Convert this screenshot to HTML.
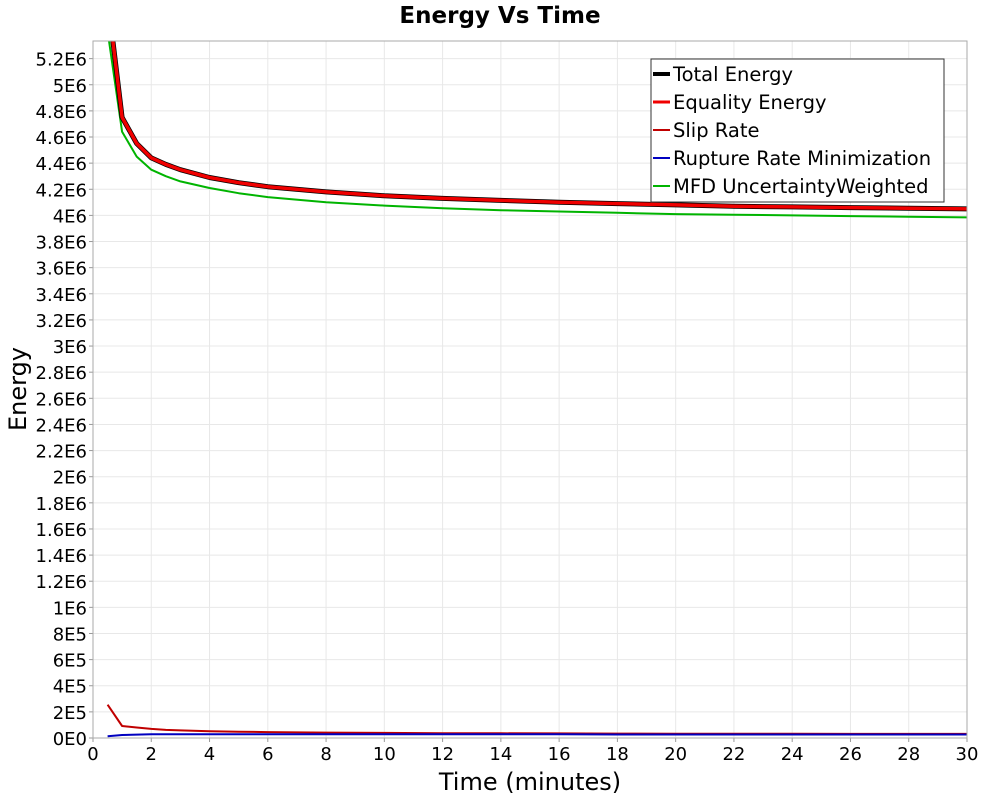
<!DOCTYPE html>
<html><head><meta charset="utf-8"><style>
body{margin:0;background:#fff;}
svg{display:block;font-family:"DejaVu Sans","Liberation Sans",sans-serif;}
</style></head><body>
<svg id="chart" width="1000" height="800"></svg>
<script>
const times=[0.5,1,1.5,2,2.5,3,4,5,6,8,10,12,14,16,18,20,22,24,26,28,30];
const totalEnergy=[5.67e6,4.75e6,4.55e6,4.44e6,4.39e6,4.35e6,4.29e6,4.25e6,4.22e6,4.18e6,4.15e6,4.13e6,4.115e6,4.10e6,4.09e6,4.08e6,4.07e6,4.065e6,4.06e6,4.055e6,4.05e6];
const equalityEnergy=[5.67e6,4.75e6,4.55e6,4.44e6,4.39e6,4.35e6,4.29e6,4.25e6,4.22e6,4.18e6,4.15e6,4.13e6,4.115e6,4.10e6,4.09e6,4.08e6,4.07e6,4.065e6,4.06e6,4.055e6,4.05e6];
const slipRate=[255e3,92e3,80e3,70e3,62e3,58e3,52e3,48e3,45e3,41e3,39e3,37e3,36e3,35e3,34e3,33e3,32.5e3,32e3,31.5e3,31e3,31e3];
const ruptureRate=[13e3,23e3,26e3,28e3,28e3,28e3,28e3,28e3,28e3,28e3,28e3,28e3,28e3,28e3,27e3,27e3,27e3,27e3,27e3,27e3,27e3];
const mfdWeighted=[5.41e6,4.64e6,4.45e6,4.35e6,4.30e6,4.26e6,4.21e6,4.17e6,4.14e6,4.10e6,4.075e6,4.055e6,4.04e6,4.03e6,4.02e6,4.01e6,4.005e6,4.0e6,3.995e6,3.99e6,3.985e6];
const xTicks=[0,2,4,6,8,10,12,14,16,18,20,22,24,26,28,30];
const yTickLabels=["0E0","2E5","4E5","6E5","8E5","1E6","1.2E6","1.4E6","1.6E6","1.8E6","2E6","2.2E6","2.4E6","2.6E6","2.8E6","3E6","3.2E6","3.4E6","3.6E6","3.8E6","4E6","4.2E6","4.4E6","4.6E6","4.8E6","5E6","5.2E6"];

const L=93,R=967,T=41,B=738;
const X=v=>L+v/30*(R-L);
const Y=v=>B-v/2e5*26.13;
const NS="http://www.w3.org/2000/svg";
const svg=document.getElementById('chart');
function mk(tag,attrs,parent){const e=document.createElementNS(NS,tag);for(const k in attrs)e.setAttribute(k,attrs[k]);(parent||svg).appendChild(e);return e;}

const title=mk('text',{x:500,y:23,'text-anchor':'middle','font-size':23,'font-weight':'bold'});
title.textContent='Energy Vs Time';



const bg=mk('rect',{x:L,y:T,width:R-L,height:B-T,fill:'#fff',stroke:'none'});



xTicks.forEach(t=>{
  const g=mk('line',{x1:X(t),x2:X(t),y1:T,y2:B,stroke:'#e8e8e8','stroke-width':1});
  
  
  const tk=mk('line',{x1:X(t),x2:X(t),y1:B,y2:B+4,stroke:'#999'});
  
  
  const lb=mk('text',{x:X(t),y:B+22,'text-anchor':'middle','font-size':18});
  lb.textContent=String(t);
  
  
});
yTickLabels.forEach((s,i)=>{
  const v=i*2e5;
  const g=mk('line',{x1:L,x2:R,y1:Y(v),y2:Y(v),stroke:'#e8e8e8','stroke-width':1});
  
  
  const tk=mk('line',{x1:L-4,x2:L,y1:Y(v),y2:Y(v),stroke:'#999'});
  
  
  const lb=mk('text',{x:L-6,y:Y(v)+7,'text-anchor':'end','font-size':18});
  lb.textContent=s;
  
  
});

const clip=mk('clipPath',{id:'pc'});
mk('rect',{x:L,y:T,width:R-L,height:B-T},clip);

function line(vals,color,w,name){
  const d=times.map((t,i)=>(i?'L':'M')+X(t).toFixed(1)+','+Y(vals[i]).toFixed(1)).join(' ');
  const p=mk('path',{d:d,fill:'none',stroke:color,'stroke-width':w,'clip-path':'url(#pc)','stroke-linejoin':'round'});
  
  
}
line(mfdWeighted,'#00b400',2,'mfd-uncertainty-weighted-line');
line(totalEnergy,'#000',5,'total-energy-line');
line(equalityEnergy,'#f00000',3.5,'equality-energy-line');
line(slipRate,'#c00000',2,'slip-rate-line');
line(ruptureRate,'#0000c0',2,'rupture-rate-minimization-line');

const frame=mk('rect',{x:L,y:T,width:R-L,height:B-T,fill:'none',stroke:'#aaa','stroke-width':1});



const xl=mk('text',{x:(L+R)/2,y:790,'text-anchor':'middle','font-size':24});
xl.textContent='Time (minutes)';


const yl=mk('text',{x:0,y:0,'text-anchor':'middle','font-size':24,transform:'translate(26,389) rotate(-90)'});
yl.textContent='Energy';



const lg=mk('g',{});


mk('rect',{x:651,y:59,width:293,height:143,fill:'#fff',stroke:'#333','stroke-width':1},lg);
const items=[['Total Energy','#000',4],['Equality Energy','#f00000',3],['Slip Rate','#c00000',2],['Rupture Rate Minimization','#0000c0',2],['MFD UncertaintyWeighted','#00b400',2]];
items.forEach((it,i)=>{
  const y=74+i*28;
  const ln=mk('line',{x1:653,x2:670,y1:y,y2:y,stroke:it[1],'stroke-width':it[2]},lg);
  
  
  const tx=mk('text',{x:673,y:y+7,'font-size':19.5},lg);
  tx.textContent=it[0];
  
  
});
</script>
</body></html>
